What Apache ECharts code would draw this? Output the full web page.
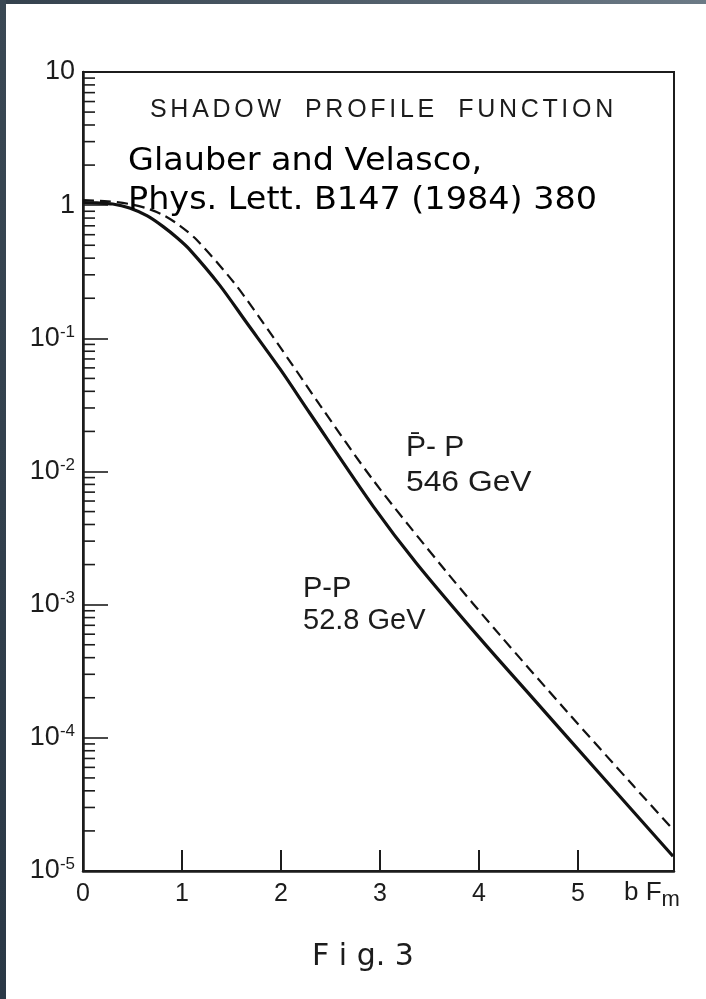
<!DOCTYPE html>
<html>
<head>
<meta charset="utf-8">
<script src="https://cdn.jsdelivr.net/npm/echarts@6/dist/echarts.min.js"></script>
<style>
html,body{margin:0;padding:0;background:#fff;}
#chart{width:706px;height:999px;}
</style>
</head>
<body>
<div id="chart"></div>
<script>
// ---- data ----
// p-p at 52.8 GeV (solid curve)
const ppB       = [0, 0.14, 0.3, 0.47, 0.65, 0.81, 0.95, 1.08, 1.38, 1.65, 1.99, 2.29, 2.93, 3.37, 4.01, 4.55, 5.22, 5.96];
const ppProfile = [1.047, 1.04, 1.02, 0.951, 0.83, 0.690, 0.569, 0.462, 0.251, 0.132, 0.0589, 0.0275, 0.00550, 0.00204, 0.000558, 0.000196, 0.0000537, 0.0000129];
// pbar-p at 546 GeV (dashed curve)
const pbarB       = [0, 0.25, 0.47, 0.65, 0.81, 0.98, 1.15, 1.52, 1.79, 2.12, 2.39, 2.93, 3.67, 4.21, 4.89, 5.56, 5.96];
const pbarProfile = [1.09, 1.07, 1.02, 0.944, 0.843, 0.70, 0.547, 0.265, 0.1406, 0.0624, 0.0318, 0.00863, 0.00177, 0.000593, 0.000157, 0.0000436, 0.0000205];
// axes
const xTickLabels = ['0', '1', '2', '3', '4', '5'];
const yTickValues = [1e-5, 1e-4, 1e-3, 1e-2, 1e-1, 1, 10];
const yTickLabels = ['10^-5', '10^-4', '10^-3', '10^-2', '10^-1', '1', '10'];
const minorMantissas = [2, 3, 4, 5, 6, 7, 8, 9];
const minorDecades = [1e-5, 1e-4, 1e-3, 1e-2, 1e-1, 1];
// texts
const titleWords = ['SHADOW', 'PROFILE', 'FUNCTION'];
const citation = ['Glauber and Velasco,', 'Phys. Lett. B147 (1984) 380'];

const minorTicks = [];
minorDecades.forEach(d => minorMantissas.forEach(m => minorTicks.push([0, m * d])));

const INK = '#1c1c1c';

// letter-spaced title laid out glyph by glyph
const TITLE_FONT = '25px "Liberation Sans"';
const measure = document.createElement('canvas').getContext('2d');
measure.font = TITLE_FONT;
const titleGraphics = [];
(function () {
  let x = 150;
  const letterGap = 3.7, wordGap = 24;
  titleWords.forEach((w) => {
    for (const ch of w) {
      titleGraphics.push({type: 'text', x: x, y: 98, style: {text: ch, font: TITLE_FONT, fill: INK}, z: 50});
      x += measure.measureText(ch).width + letterGap;
    }
    x += wordGap - letterGap;
  });
})();

const chart = echarts.init(document.getElementById('chart'), null, {renderer: 'canvas', width: 706, height: 999});

const option = {
  backgroundColor: '#ffffff',
  animation: false,
  grid: {
    left: 83, top: 72, right: 32, bottom: 128,
    show: true, borderColor: INK, borderWidth: 2, backgroundColor: 'transparent'
  },
  xAxis: {
    type: 'value', min: 0, max: 5.97, interval: 1,
    axisLine: {show: true, lineStyle: {color: INK, width: 2.5}},
    axisTick: {show: true, inside: true, length: 21, lineStyle: {color: INK, width: 2}},
    axisLabel: {
      show: true, margin: 11, fontSize: 25, color: INK, fontFamily: 'Liberation Sans',
      showMaxLabel: false,
      formatter: v => { const i = Math.round(v); return Math.abs(v - i) < 1e-6 ? (xTickLabels[i] || '') : ''; }
    },
    splitLine: {show: false}
  },
  yAxis: {
    type: 'log', logBase: 10, min: 1e-5, max: 10, splitNumber: 6,
    axisLine: {show: true, lineStyle: {color: INK, width: 2.5}},
    axisTick: {show: true, inside: true, length: 25, lineStyle: {color: INK, width: 1.6}},
    axisLabel: {
      show: true, margin: 8, color: INK,
      formatter: v => {
        const e = Math.round(Math.log10(v));
        const idx = yTickValues.findIndex(t => Math.round(Math.log10(t)) === e);
        if (idx < 0) return '';
        const lab = yTickLabels[idx];
        if (lab.indexOf('^') >= 0) {
          const parts = lab.split('^');
          return '{b|' + parts[0] + '}{s|' + parts[1] + '}';
        }
        return '{b|' + lab + '}';
      },
      rich: {
        b: {fontSize: 27, fontFamily: 'Liberation Sans', color: INK, lineHeight: 30},
        s: {fontSize: 17, fontFamily: 'Liberation Sans', color: INK, verticalAlign: 'top', lineHeight: 30}
      }
    },
    splitLine: {show: false},
    minorTick: {show: false}
  },
  series: [
    {
      name: 'P-P 52.8 GeV', type: 'line', smooth: 0.3, symbol: 'none',
      data: ppB.map((b, i) => [b, ppProfile[i]]),
      lineStyle: {color: '#111', width: 3.2, type: 'solid'},
      z: 3
    },
    {
      name: 'Pbar-P 546 GeV', type: 'line', smooth: 0.3, symbol: 'none',
      data: pbarB.map((b, i) => [b, pbarProfile[i]]),
      lineStyle: {color: '#111', width: 2.2, type: [11, 6]},
      z: 3
    },
    {
      name: 'minor ticks', type: 'custom', silent: true, clip: false,
      data: minorTicks,
      renderItem: (params, api) => {
        const p = api.coord([api.value(0), api.value(1)]);
        return {type: 'line', shape: {x1: p[0], y1: p[1], x2: p[0] + 12, y2: p[1]},
                style: {stroke: INK, lineWidth: 1.6}};
      },
      z: 4
    }
  ],
  graphic: [
    {type: 'rect', left: 0, top: 0, shape: {width: 706, height: 4},
     style: {fill: new echarts.graphic.LinearGradient(0, 0, 1, 0, [{offset: 0, color: '#34414d'}, {offset: 1, color: '#6c7a86'}])}, z: 100},
    {type: 'rect', left: 0, top: 0, shape: {width: 6, height: 999},
     style: {fill: new echarts.graphic.LinearGradient(0, 0, 0, 1, [{offset: 0, color: '#3a4854'}, {offset: 1, color: '#2a3846'}])}, z: 100},
    ...titleGraphics,
    // citation
    {type: 'text', x: 128, y: 146, scaleX: 1.045, style: {text: citation[0], font: '32px "DejaVu Sans"', fill: '#000'}, z: 50},
    {type: 'text', x: 128, y: 185, scaleX: 1.045, style: {text: citation[1], font: '32px "DejaVu Sans"', fill: '#000'}, z: 50},
    // curve labels
    {type: 'text', left: 406, top: 433, style: {text: 'P\u0304- P', font: '30px "Liberation Sans"', fill: INK}, z: 50},
    {type: 'text', x: 406, y: 468, scaleX: 1.06, style: {text: '546 GeV', font: '30px "Liberation Sans"', fill: INK}, z: 50},
    {type: 'text', left: 303, top: 574, style: {text: 'P-P', font: '29px "Liberation Sans"', fill: INK}, z: 50},
    {type: 'text', left: 303, top: 606, style: {text: '52.8 GeV', font: '29px "Liberation Sans"', fill: INK}, z: 50},
    // axis name
    {type: 'text', left: 624, top: 880, style: {
      text: '{n|b F}{m|m}',
      rich: {n: {fontSize: 26, fontFamily: 'Liberation Sans', fill: INK, lineHeight: 30},
             m: {fontSize: 22, fontFamily: 'Liberation Sans', fill: INK, verticalAlign: 'bottom', lineHeight: 36}}
    }, z: 50},
    // figure caption
    {type: 'text', left: 312, top: 942, style: {text: 'F i g. 3', font: '30px "DejaVu Sans"', fill: INK}, z: 50}
  ]
};
chart.setOption(option);
</script>
</body>
</html>
